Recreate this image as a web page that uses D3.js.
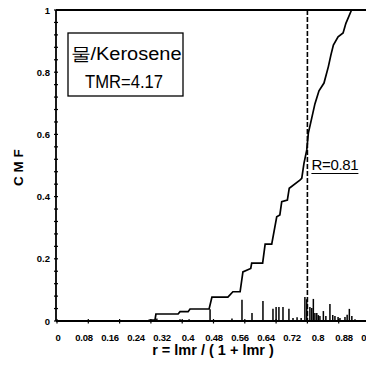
<!DOCTYPE html>
<html><head><meta charset="utf-8">
<script src="https://cdn.jsdelivr.net/npm/d3@7"></script>
<style>body{margin:0;background:#fff}svg{display:block}</style>
</head><body>
<script>
// CMF curve (r, cumulative mass fraction)
const cmfR = [0,0.288,0.297,0.313,0.316,0.387,0.393,0.419,0.425,0.486,0.495,0.546,0.562,0.585,0.594,0.619,0.622,0.657,0.665,0.686,0.702,0.712,0.718,0.736,0.742,0.776,0.782,0.789,0.798,0.803,0.814,0.824,0.837,0.853,0.867,0.875,0.883,0.898,0.914,0.923,0.941,1.0];
const cmfV = [0,0,0.003,0.003,0.0225,0.0225,0.030,0.030,0.0386,0.0386,0.077,0.077,0.094,0.094,0.158,0.169,0.186,0.186,0.247,0.247,0.335,0.341,0.384,0.389,0.427,0.453,0.459,0.507,0.550,0.604,0.653,0.698,0.740,0.765,0.818,0.855,0.887,0.914,0.926,0.957,1.0,1.0];
// PMF spikes
const pmfR = [0.291,0.319,0.393,0.422,0.489,0.559,0.591,0.623,0.658,0.690,0.700,0.709,0.722,0.741,0.754,0.767,0.780,0.792,0.798,0.808,0.814,0.819,0.824,0.830,0.835,0.840,0.851,0.859,0.872,0.881,0.888,0.898,0.904,0.920,0.927,0.934,0.942,0.952];
const pmfV = [0.003,0.008,0.006,0.006,0.038,0.008,0.068,0.026,0.064,0.039,0.045,0.045,0.045,0.039,0.010,0.012,0.010,0.077,0.070,0.045,0.042,0.071,0.026,0.026,0.019,0.016,0.032,0.016,0.055,0.019,0.016,0.013,0.010,0.013,0.020,0.039,0.016,0.006];
const xTickLabels = ["0","0.08","0.16","0.24","0.32","0.4","0.48","0.56","0.64","0.72","0.8","0.88","0.96"];
const yTickLabels = ["0","0.2","0.4","0.6","0.8","1"];
const rLine = 0.8;
const rText = "R=0.81";
const legendLines = ["물/Kerosene","TMR=4.17"];

const W=366,H=365;
const svg=d3.select("body").append("svg").attr("width",W).attr("height",H);
const x=d3.scaleLinear().domain([0,1]).range([57,370]);
const y=d3.scaleLinear().domain([0,1]).range([321,10]);
const xl=d3.scaleLinear().domain([0,0.96]).range([58,370]);
const font="Arial, 'Liberation Sans', sans-serif";

// frame
svg.append("line").attr("x1",56).attr("x2",370).attr("y1",y(1)).attr("y2",y(1)).attr("stroke","#000").attr("stroke-width",1.8);
svg.append("line").attr("x1",56).attr("x2",56).attr("y1",y(1)).attr("y2",y(0)).attr("stroke","#000").attr("stroke-width",1.8);
svg.append("line").attr("x1",56).attr("x2",370).attr("y1",y(0)).attr("y2",y(0)).attr("stroke","#000").attr("stroke-width",1.8);

// y ticks (minor every 0.04)
const yt=d3.range(0,1.0001,0.04);
svg.selectAll(".yt").data(yt).enter().append("line").attr("x1",54).attr("x2",58)
  .attr("y1",d=>y(d)).attr("y2",d=>y(d)).attr("stroke","#000").attr("stroke-width",1.2);
svg.selectAll(".ytl").data(yTickLabels).enter().append("text")
  .attr("x",50).attr("y",d=>y(+d)+3.5).attr("text-anchor","end")
  .attr("font-family",font).attr("font-weight","bold").attr("font-size",9.5).text(d=>d);

// x ticks every 0.1
const xt=d3.range(0,1.0001,0.1);
svg.selectAll(".xt").data(xt).enter().append("line").attr("x1",d=>x(d)).attr("x2",d=>x(d))
  .attr("y1",y(0)-2).attr("y2",y(0)+2.5).attr("stroke","#000").attr("stroke-width",1.2);
svg.selectAll(".xtl").data(xTickLabels).enter().append("text")
  .attr("x",d=>xl(+d)).attr("y",341).attr("text-anchor","middle")
  .attr("font-family",font).attr("font-weight","bold").attr("font-size",9.5).attr("letter-spacing",-0.3).text(d=>d);

// axis titles
svg.append("text").attr("transform",`translate(23,${y(0.5)+2}) rotate(-90)`).attr("text-anchor","middle")
  .attr("font-family",font).attr("font-weight","bold").attr("font-size",13.5).text("C M F");
svg.append("text").attr("x",213).attr("y",355).attr("text-anchor","middle")
  .attr("font-family",font).attr("font-weight","bold").attr("font-size",14.5).text("r = lmr / ( 1 + lmr )");

// pmf spikes
svg.selectAll(".pmf").data(pmfR).enter().append("line")
  .attr("x1",d=>x(d)).attr("x2",d=>x(d)).attr("y1",y(0)).attr("y2",(d,i)=>y(pmfV[i]))
  .attr("stroke","#000").attr("stroke-width",1.5);

// cmf curve
const pts=cmfR.map((r,i)=>[r,cmfV[i]]);
svg.append("path").datum(pts).attr("d",d3.line().x(d=>x(d[0])).y(d=>y(d[1])))
  .attr("fill","none").attr("stroke","#000").attr("stroke-width",1.7);

// dashed R line
svg.append("line").attr("x1",x(rLine)).attr("x2",x(rLine)).attr("y1",y(1)).attr("y2",y(0))
  .attr("stroke","#000").attr("stroke-width",1.6).attr("stroke-dasharray","5,2");
const rt=svg.append("text").attr("x",x(rLine)+4).attr("y",170)
  .attr("font-family",font).attr("font-size",15).attr("letter-spacing",-0.3).text(rText);
svg.append("line").attr("x1",x(rLine)+4).attr("x2",x(rLine)+4+rt.node().getComputedTextLength())
  .attr("y1",173.5).attr("y2",173.5).attr("stroke","#000").attr("stroke-width",1.2);

// legend box
svg.append("rect").attr("x",68).attr("y",33).attr("width",115).attr("height",63)
  .attr("fill","#fff").attr("stroke","#000").attr("stroke-width",1.3);
svg.append("text").attr("x",126).attr("y",60).attr("text-anchor","middle")
  .attr("font-family",font).attr("font-size",18).attr("textLength",111).attr("lengthAdjust","spacingAndGlyphs").text(legendLines[0]);
svg.append("text").attr("x",124).attr("y",88).attr("text-anchor","middle")
  .attr("font-family",font).attr("font-size",18).attr("textLength",78).attr("lengthAdjust","spacingAndGlyphs").text(legendLines[1]);
</script>
</body></html>
